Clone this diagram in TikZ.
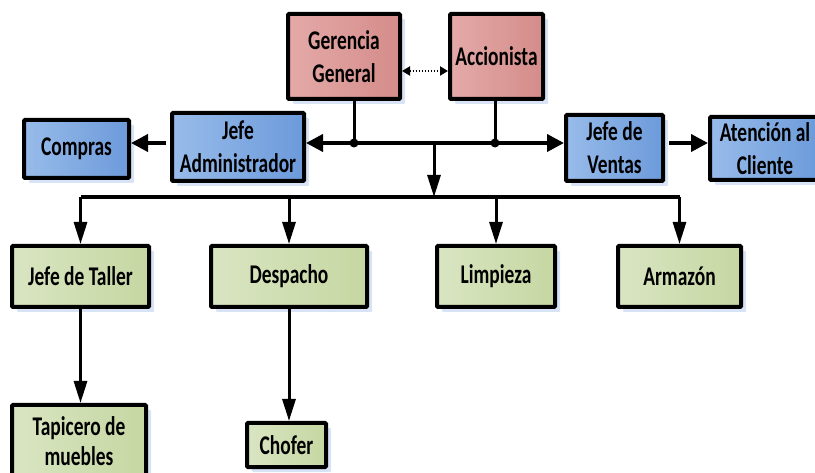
\documentclass[tikz,border=0pt]{standalone}
\usepackage{fontspec}
\setmainfont{Carlito}[FakeStretch=0.72]
\usetikzlibrary{arrows.meta,shadows}

\definecolor{redA}{RGB}{228,170,168}
\definecolor{redB}{RGB}{212,140,138}
\definecolor{blueA}{RGB}{152,188,234}
\definecolor{blueB}{RGB}{108,154,218}
\definecolor{greenA}{RGB}{217,229,194}
\definecolor{greenB}{RGB}{198,215,162}
\definecolor{shade}{RGB}{216,228,245}

\begin{document}
\begin{tikzpicture}[x=1pt,y=-1pt]
  \tikzset{box/.style = {shape=rectangle,draw=black,line width=4pt,rounded corners=1pt,
      inner sep=1pt,align=center,font=\fontsize{27}{33}\selectfont\bfseries,
      drop shadow={fill=shade,shadow xshift=5pt,shadow yshift=-5pt,opacity=1}}}
  \tikzset{redbox/.style = {box,left color=redA,right color=redB}}
  \tikzset{bluebox/.style = {box,left color=blueA,right color=blueB}}
  \tikzset{greenbox/.style = {box,left color=greenA,right color=greenB}}
  \tikzset{hline/.style = {line width=3.8pt,-{Triangle[length=17pt,width=17pt]}}}
  \tikzset{vline/.style = {line width=3pt,-{Triangle[length=22pt,width=13pt]}}}
  \useasboundingbox (0,0) rectangle (815,473);
	\node[redbox,minimum width=112pt,minimum height=85pt] (gerencia) at (344,56.5) {Gerencia\\General};
	\node[redbox,minimum width=93pt,minimum height=85pt] (accionista) at (496.5,56.5) {Accionista};
	\node[bluebox,minimum width=105pt,minimum height=58pt] (compras) at (76.5,149) {Compras};
	\node[bluebox,minimum width=132pt,minimum height=68pt] (jefeadm) at (238,147) {Jefe\\Administrador};
	\node[bluebox,minimum width=97pt,minimum height=66pt] (jefeventas) at (614.5,148) {Jefe de\\Ventas};
	\node[bluebox,minimum width=110pt,minimum height=63pt] (atencion) at (765,148.5) {Atención al\\Cliente};
	\node[greenbox,minimum width=137pt,minimum height=61pt] (taller) at (80.5,276.5) {Jefe de Taller};
	\node[greenbox,minimum width=156pt,minimum height=61pt] (despacho) at (289,276.5) {Despacho};
	\node[greenbox,minimum width=118pt,minimum height=61pt] (limpieza) at (496,276.5) {Limpieza};
	\node[greenbox,minimum width=123pt,minimum height=61pt] (armazon) at (679.5,276.5) {Armazón};
	\node[greenbox,minimum width=134pt,minimum height=72pt,font=\fontsize{27}{30}\selectfont\bfseries] (tapicero) at (79,441) {Tapicero de\\muebles};
	\node[greenbox,minimum width=79pt,minimum height=44pt] (chofer) at (286.5,445) {Chofer};

    \coordinate (jg) at (354,143);
    \coordinate (ja) at (495,143);
    \coordinate (bus) at (434,143);
    \coordinate (lb) at (434,197);

    % top level
    \draw[line width=2pt,dash pattern=on 1.6pt off 1.4pt,{Triangle[length=8pt,width=9pt]}-{Triangle[length=8pt,width=9pt]}]
      ([yshift=-14.5pt]gerencia.east) -- ([yshift=-14.5pt]accionista.west);
    \draw[line width=3pt] (gerencia.south -| jg) -- (jg);
    \draw[line width=3pt] (accionista.south -| ja) -- (ja);
    \draw[hline] (jg) -- (jg -| jefeadm.east);
    \draw[hline] (jg) -- (jg -| jefeventas.west);
    \fill (jg) circle (4.5pt) (ja) circle (4.5pt);
    \draw[hline,shorten <=4pt] (jefeadm.west |- jg) -- (jg -| compras.east);
    \draw[hline,shorten <=4pt] (jefeventas.east |- jg) -- (jg -| atencion.west);

    % talleres
    \draw[vline] (bus) -- (lb);
    \draw[line width=3.8pt] (taller |- lb) -- (armazon |- lb);
    \foreach \n in {taller,despacho,limpieza,armazon}
    \draw[vline] (\n |- lb) -- (\n.north);
    \draw[vline] (taller.south) -- (taller.south |- tapicero.north);
    \draw[vline] (despacho.south) -- (despacho.south |- chofer.north);
\end{tikzpicture}
\end{document}
